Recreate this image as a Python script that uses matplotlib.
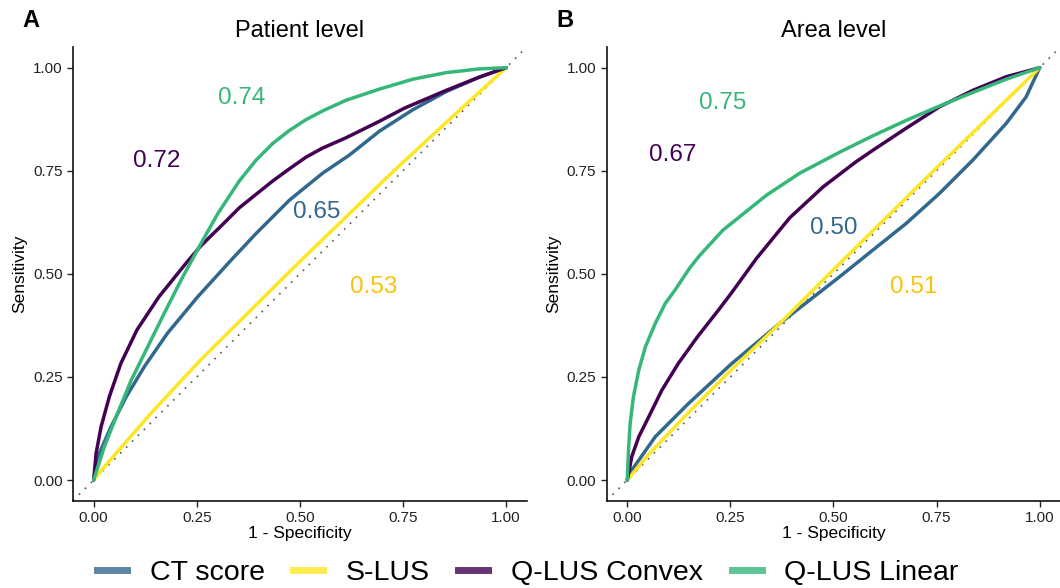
import matplotlib
matplotlib.use("Agg")
import matplotlib.pyplot as plt
from matplotlib.lines import Line2D

plt.rcParams['font.family'] = ['Liberation Sans', 'DejaVu Sans']

# legend / series names and colours (viridis 4)
series = ['CT score', 'S-LUS', 'Q-LUS Convex', 'Q-LUS Linear']
colors = ['#31688E', '#FDE725', '#440154', '#35B779']
label_colors = ['#31688E', '#F9C20A', '#440154', '#35B779']

# ---- panel A: patient level (1 - specificity, sensitivity) ----
a_ct_x = [0, 0.014, 0.042, 0.079, 0.123, 0.179, 0.252, 0.333, 0.394, 0.475, 0.555, 0.62, 0.693, 0.774, 0.855, 0.935, 1]
a_ct_y = [0, 0.065, 0.129, 0.202, 0.275, 0.356, 0.444, 0.533, 0.598, 0.679, 0.744, 0.788, 0.846, 0.898, 0.942, 0.977, 1]
a_slus_x = [0, 0.026, 0.139, 0.26, 0.5, 0.725, 0.86, 1]
a_slus_y = [0, 0.032, 0.162, 0.292, 0.53, 0.747, 0.872, 1]
a_conv_x = [0, 0.006, 0.018, 0.038, 0.066, 0.105, 0.158, 0.225, 0.26, 0.313, 0.353, 0.394, 0.434, 0.475, 0.515, 0.555, 0.612, 0.693, 0.754, 0.855, 0.935, 1]
a_conv_y = [0, 0.065, 0.129, 0.202, 0.283, 0.364, 0.444, 0.527, 0.568, 0.62, 0.66, 0.693, 0.725, 0.755, 0.783, 0.805, 0.83, 0.87, 0.902, 0.945, 0.977, 1]
a_lin_x = [0, 0.026, 0.058, 0.091, 0.131, 0.171, 0.212, 0.256, 0.301, 0.353, 0.394, 0.434, 0.475, 0.515, 0.555, 0.612, 0.693, 0.774, 0.855, 0.935, 1]
a_lin_y = [0, 0.081, 0.162, 0.242, 0.323, 0.404, 0.485, 0.566, 0.646, 0.725, 0.776, 0.816, 0.848, 0.874, 0.895, 0.921, 0.948, 0.972, 0.988, 0.997, 1]
a_auc = ['0.65', '0.53', '0.72', '0.74']
a_auc_xy = [(0.54, 0.65), (0.678, 0.468), (0.152, 0.773), (0.36, 0.926)]

# ---- panel B: area level ----
b_ct_x = [0, 0.011, 0.068, 0.149, 0.254, 0.37, 0.515, 0.596, 0.676, 0.757, 0.838, 0.919, 0.967, 1]
b_ct_y = [0, 0.024, 0.105, 0.186, 0.283, 0.38, 0.493, 0.558, 0.622, 0.695, 0.776, 0.865, 0.929, 1]
b_slus_x = [0, 0.05, 0.15, 0.25, 0.37, 0.5, 0.75, 1]
b_slus_y = [0, 0.06, 0.165, 0.265, 0.38, 0.51, 0.757, 1]
b_conv_x = [0, 0.011, 0.028, 0.052, 0.084, 0.124, 0.170, 0.221, 0.25, 0.313, 0.394, 0.475, 0.555, 0.596, 0.676, 0.757, 0.838, 0.919, 1]
b_conv_y = [0, 0.057, 0.105, 0.153, 0.218, 0.283, 0.347, 0.412, 0.45, 0.537, 0.636, 0.711, 0.772, 0.80, 0.853, 0.905, 0.945, 0.978, 1]
b_lin_x = [0, 0.003, 0.007, 0.015, 0.028, 0.044, 0.068, 0.092, 0.116, 0.152, 0.176, 0.232, 0.257, 0.338, 0.418, 0.515, 0.596, 0.676, 0.757, 0.838, 0.919, 1]
b_lin_y = [0, 0.073, 0.137, 0.202, 0.267, 0.323, 0.380, 0.428, 0.461, 0.515, 0.545, 0.606, 0.626, 0.691, 0.744, 0.795, 0.835, 0.872, 0.907, 0.94, 0.972, 1]
b_auc = ['0.50', '0.51', '0.67', '0.75']
b_auc_xy = [(0.5, 0.611), (0.694, 0.468), (0.11, 0.788), (0.232, 0.914)]

ticks = [0, 0.25, 0.5, 0.75, 1]
tick_labels = ['0.00', '0.25', '0.50', '0.75', '1.00']

fig = plt.figure(figsize=(10.6, 5.88), dpi=100)
axA = fig.add_axes([0.0689, 0.1486, 0.428, 0.7714])
axB = fig.add_axes([0.5723, 0.1486, 0.428, 0.7714])


def draw_panel(ax, curves, aucs, auc_xy, title):
    ax.plot([-0.05, 1.05], [-0.05, 1.05], color='#555555', lw=1.2,
            linestyle=(0, (1, 4)), zorder=1)
    # draw order: linear, convex, CT, S-LUS on top
    for i in [3, 2, 0, 1]:
        xs, ys = curves[i]
        ax.plot(xs, ys, color=colors[i], lw=2.5, solid_capstyle='round',
                solid_joinstyle='round', zorder=2 + i)
    for i in range(4):
        ax.text(auc_xy[i][0], auc_xy[i][1], aucs[i], color=label_colors[i],
                fontsize=17.5, ha='center', va='center')
    ax.set_xlim(-0.05, 1.05)
    ax.set_ylim(-0.05, 1.05)
    ax.set_xticks(ticks)
    ax.set_xticklabels(tick_labels)
    ax.set_yticks(ticks)
    ax.set_yticklabels(tick_labels)
    ax.tick_params(labelsize=11, length=4, width=1, colors='#222222')
    for s in ['top', 'right']:
        ax.spines[s].set_visible(False)
    for s in ['left', 'bottom']:
        ax.spines[s].set_linewidth(1.2)
        ax.spines[s].set_color('#111111')
    ax.set_xlabel('1 - Specificity', fontsize=12.5, labelpad=1)
    ax.set_ylabel('Sensitivity', fontsize=12.5, labelpad=4)
    ax.set_title(title, fontsize=17, pad=7)


draw_panel(axA, [(a_ct_x, a_ct_y), (a_slus_x, a_slus_y), (a_conv_x, a_conv_y), (a_lin_x, a_lin_y)],
           a_auc, a_auc_xy, 'Patient level')
draw_panel(axB, [(b_ct_x, b_ct_y), (b_slus_x, b_slus_y), (b_conv_x, b_conv_y), (b_lin_x, b_lin_y)],
           b_auc, b_auc_xy, 'Area level')

fig.text(0.021, 0.965, 'A', fontsize=17, fontweight='bold', va='center')
fig.text(0.525, 0.965, 'B', fontsize=17, fontweight='bold', va='center')

handles = [Line2D([0], [0], color=c, lw=5, alpha=0.8) for c in colors]
fig.legend(handles, series, loc='center', bbox_to_anchor=(0.498, 0.026), ncol=4,
           frameon=False, fontsize=20.5, handlelength=1.05, columnspacing=1.0,
           handletextpad=0.8)

fig.savefig('out.png', dpi=100)
